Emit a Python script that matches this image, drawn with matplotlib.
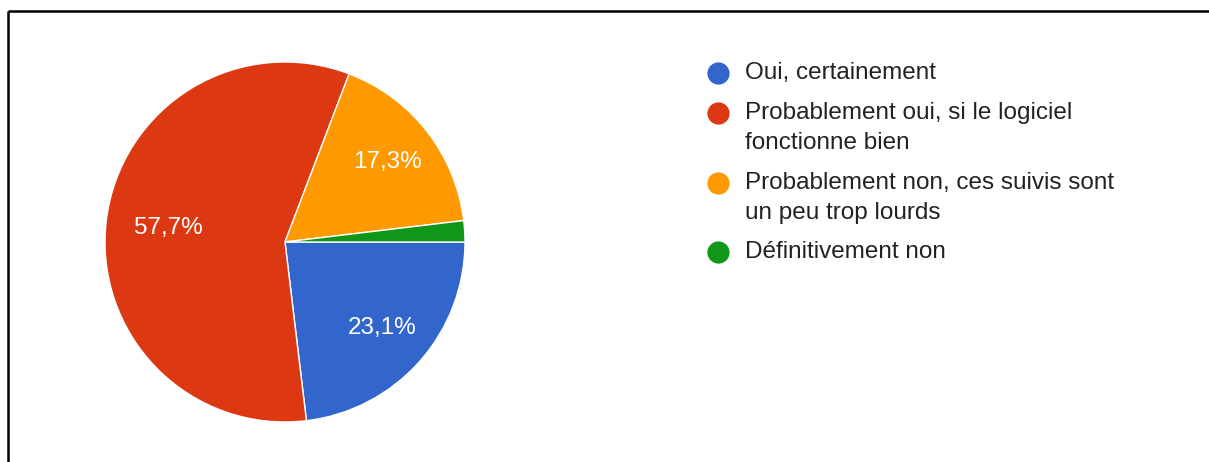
import matplotlib.pyplot as plt
import numpy as np

# donnees
categories = ['Oui, certainement',
              'Probablement oui, si le logiciel\nfonctionne bien',
              'Probablement non, ces suivis sont\nun peu trop lourds',
              'Définitivement non']
values = [23.1, 57.7, 17.3, 1.9]
colors = ['#3366CC', '#DC3912', '#FF9900', '#109618']

W, H = 1209, 462
plt.rcParams['font.family'] = ['Liberation Sans', 'DejaVu Sans']

fig = plt.figure(figsize=(W / 100, H / 100), dpi=100)
ax = fig.add_axes([0, 0, 1, 1])
ax.set_xlim(0, W)
ax.set_ylim(0, H)
ax.set_aspect('equal')
ax.axis('off')

cx, cy, r = 285, H - 242, 180
wedges, _ = ax.pie(values, colors=colors, startangle=0, counterclock=False,
                   center=(cx, cy), radius=r,
                   wedgeprops=dict(edgecolor='white', linewidth=1))
ax.set_xlim(0, W)
ax.set_ylim(0, H)

# etiquettes dans les parts
dist = [0.72, 0.655, 0.72, 0]
for w, v, d in zip(wedges, values, dist):
    if v < 5:
        continue
    ang = np.deg2rad((w.theta1 + w.theta2) / 2)
    ax.text(cx + d * r * np.cos(ang), cy + d * r * np.sin(ang),
            ('%.1f%%' % v).replace('.', ','), color='white',
            fontsize=17.5, ha='center', va='center')

# legende
rows = [73, 113, 183, 252]
for cat, col, y in zip(categories, colors, rows):
    ax.plot([718], [H - y], 'o', color=col, markersize=16, markeredgewidth=0)
    for k, line in enumerate(cat.split('\n')):
        ax.text(745, H - y - 30 * k, line, color='#222222', fontsize=17.5,
                ha='left', va='center')

# cadre
ax.plot([8, W], [H - 11, H - 11], color='black', lw=1.8, solid_capstyle='butt')
ax.plot([8, 8], [H - 11, 0], color='black', lw=1.8, solid_capstyle='butt')

fig.savefig('out.png', dpi=100, facecolor='white')
